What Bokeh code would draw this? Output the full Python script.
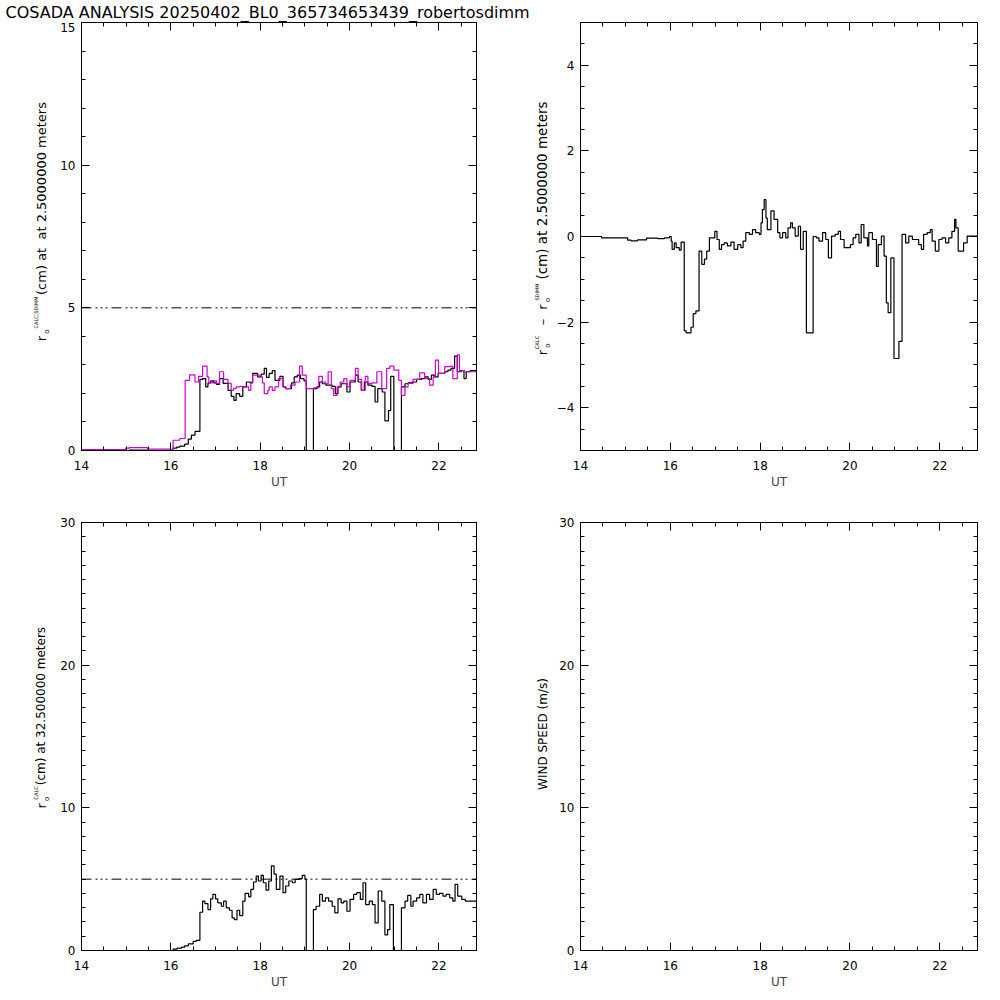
import numpy as np
from bokeh.plotting import figure
from bokeh.models import Range1d, FixedTicker, LinearAxis, Span
from bokeh.layouts import column, row
from bokeh.core.properties import value
from bokeh.embed import file_html
from bokeh.resources import INLINE

# ---------------- data (UT hours, r0 in cm) ----------------
title_text = "COSADA ANALYSIS 20250402_BL0_365734653439_robertosdimm"
x_major_ticks = [14, 16, 18, 20, 22]
y1_ticks = [0, 5, 10, 15]
y2_ticks = [-4, -2, 0, 2, 4]
y3_ticks = [0, 10, 20, 30]
r0_reference = 5.0

t_calc25 = [14.0, 15.07, 15.48, 15.98, 16.05, 16.13, 16.20, 16.31, 16.39, 16.46, 16.54, 16.65, 16.71,
            16.78, 16.83, 16.89, 16.96, 17.02, 17.09, 17.17, 17.28, 17.35, 17.41, 17.46, 17.54, 17.61,
            17.69, 17.77, 17.83, 17.94, 18.02, 18.09, 18.14, 18.20, 18.27, 18.33, 18.44, 18.51, 18.57,
            18.70, 18.76, 18.83, 18.90, 18.98, 19.03, 19.19, 19.27, 19.33, 19.39, 19.47, 19.61, 19.68,
            19.74, 19.81, 19.94, 20.01, 20.13, 20.19, 20.26, 20.33, 20.41, 20.50, 20.57, 20.63, 20.73,
            20.79, 20.87, 20.92, 20.99, 21.16, 21.24, 21.31, 21.40, 21.50, 21.61, 21.68, 21.76, 21.83,
            21.90, 21.98, 22.05, 22.13, 22.20, 22.27, 22.35, 22.41, 22.50, 22.56, 22.61, 22.70, 22.84]
r0_calc25 = [0.0, 0.01, 0.0, 0.03, 0.08, 0.12, 0.15, 0.22, 0.40, 0.54, 0.67, 2.49, 2.52,
             2.23, 2.37, 2.44, 2.37, 2.32, 2.52, 2.35, 2.11, 1.90, 1.76, 1.99, 1.90, 2.23,
             2.40, 2.37, 2.70, 2.58, 2.68, 2.88, 2.56, 2.70, 2.80, 2.46, 2.60, 2.23, 2.17,
             2.37, 2.58, 2.64, 2.52, 2.44, 0.0, 2.17, 2.23, 2.40, 2.34, 2.29, 2.25, 1.99,
             2.23, 2.34, 2.05, 2.40, 2.64, 2.40, 2.11, 2.40, 2.29, 2.25, 1.70, 2.17, 2.05,
             1.04, 1.40, 2.60, 0.0, 2.23, 2.34, 2.37, 2.40, 2.49, 2.52, 2.58, 2.49, 2.64,
             2.58, 2.70, 2.70, 2.76, 2.82, 2.88, 3.31, 2.76, 2.80, 2.52, 2.76, 2.80, 2.80]

t_sdimm = [14.0, 14.99, 15.07, 15.48, 15.98, 16.05, 16.20, 16.32, 16.42, 16.54, 16.62, 16.71, 16.81,
           16.85, 16.93, 17.02, 17.09, 17.18, 17.28, 17.35, 17.40, 17.46, 17.55, 17.62, 17.74, 17.79,
           17.83, 17.98, 18.05, 18.09, 18.17, 18.20, 18.27, 18.33, 18.41, 18.51, 18.57, 18.68, 18.78,
           18.88, 18.94, 19.03, 19.20, 19.31, 19.39, 19.46, 19.52, 19.59, 19.64, 19.72, 19.79, 19.87,
           19.94, 20.01, 20.13, 20.19, 20.27, 20.35, 20.41, 20.50, 20.61, 20.72, 20.83, 20.90, 20.99,
           21.10, 21.16, 21.24, 21.31, 21.42, 21.57, 21.68, 21.79, 21.87, 21.92, 21.99, 22.13, 22.26,
           22.31, 22.41, 22.46, 22.57, 22.84]
r0_sdimm = [0.03, 0.08, 0.10, 0.05, 0.03, 0.36, 0.42, 2.46, 2.65, 2.40, 2.60, 2.96, 2.58,
            2.37, 2.44, 2.35, 2.76, 2.49, 2.35, 2.11, 2.17, 2.23, 2.25, 2.23, 2.11, 2.40,
            2.64, 2.58, 2.37, 1.99, 2.11, 2.23, 2.11, 2.23, 2.52, 2.23, 2.17, 2.29, 2.40,
            2.96, 2.64, 2.17, 2.20, 2.60, 2.40, 2.34, 2.76, 2.17, 1.93, 2.23, 2.40, 2.52,
            2.23, 2.46, 2.88, 2.49, 2.11, 2.60, 2.35, 2.37, 2.76, 2.17, 2.88, 2.96, 2.82,
            2.46, 1.93, 2.23, 2.35, 2.49, 2.72, 2.52, 2.29, 2.58, 3.17, 2.70, 2.94, 2.96,
            2.52, 3.35, 2.80, 2.76, 2.76]

t_diff = [14.0, 14.47, 15.05, 15.13, 15.27, 15.47, 15.72, 15.87, 15.98, 16.02, 16.04, 16.09, 16.13,
          16.20, 16.24, 16.31, 16.35, 16.46, 16.51, 16.57, 16.64, 16.70, 16.76, 16.81, 16.87, 16.99,
          17.04, 17.09, 17.14, 17.20, 17.27, 17.35, 17.42, 17.50, 17.57, 17.62, 17.68, 17.76, 17.83,
          17.90, 17.98, 18.02, 18.05, 18.09, 18.13, 18.16, 18.24, 18.31, 18.39, 18.44, 18.50, 18.57,
          18.62, 18.68, 18.72, 18.78, 18.85, 18.90, 18.96, 19.03, 19.18, 19.25, 19.31, 19.39, 19.46,
          19.52, 19.59, 19.67, 19.74, 19.79, 19.87, 20.01, 20.07, 20.13, 20.20, 20.25, 20.31, 20.39,
          20.42, 20.50, 20.59, 20.63, 20.70, 20.76, 20.81, 20.85, 20.91, 20.98, 21.09, 21.16, 21.24,
          21.31, 21.39, 21.53, 21.59, 21.64, 21.72, 21.79, 21.83, 21.90, 21.98, 22.05, 22.13, 22.20,
          22.27, 22.33, 22.36, 22.41, 22.53, 22.61, 22.84]
r0_diff = [0.0, -0.03, -0.085, -0.10, -0.08, -0.04, -0.05, -0.03, 0.0, -0.11, -0.30, -0.15, -0.26,
           -0.32, -0.13, -2.20, -2.25, -2.12, -1.80, -1.74, -0.34, -0.65, -0.53, -0.34, -0.03, 0.12,
           -0.07, -0.30, -0.19, -0.15, -0.22, -0.13, -0.30, -0.19, -0.26, -0.11, 0.09, 0.05, 0.16,
           0.09, 0.05, 0.32, 0.63, 0.86, 0.43, 0.16, 0.60, 0.40, 0.09, -0.03, 0.09, -0.03,
           0.20, 0.32, 0.20, 0.01, 0.24, -0.30, 0.12, -2.25, 0.00, -0.03, -0.11, 0.09, -0.07,
           -0.50, 0.01, 0.05, 0.12, -0.07, -0.26, -0.19, -0.03, 0.05, -0.15, 0.28, -0.03, -0.22,
           0.09, -0.07, -0.70, -0.19, 0.01, -0.46, -1.55, -1.78, -0.50, -2.85, -2.45, 0.05, -0.15,
           0.01, -0.07, -0.19, -0.30, 0.05, 0.09, 0.16, -0.11, -0.34, -0.07, -0.03, -0.15, -0.03,
           0.12, 0.40, 0.20, -0.34, -0.15, 0.01, 0.01]

t_calc325 = [14.0, 16.05, 16.14, 16.24, 16.31, 16.39, 16.50, 16.57, 16.65, 16.71, 16.76, 16.83, 16.89,
             16.94, 17.00, 17.05, 17.13, 17.18, 17.24, 17.31, 17.37, 17.42, 17.48, 17.54, 17.61, 17.66,
             17.74, 17.79, 17.85, 17.91, 17.96, 18.02, 18.07, 18.13, 18.19, 18.25, 18.31, 18.36, 18.44,
             18.51, 18.57, 18.64, 18.72, 18.78, 18.87, 18.94, 19.00, 19.03, 19.19, 19.25, 19.33, 19.39,
             19.46, 19.53, 19.61, 19.67, 19.74, 19.81, 19.87, 19.94, 20.01, 20.09, 20.16, 20.24, 20.30,
             20.36, 20.44, 20.51, 20.57, 20.64, 20.72, 20.79, 20.85, 20.90, 20.98, 21.16, 21.24, 21.30,
             21.37, 21.42, 21.50, 21.57, 21.64, 21.72, 21.79, 21.87, 21.94, 22.01, 22.09, 22.16, 22.24,
             22.31, 22.36, 22.42, 22.51, 22.59, 22.84]
r0_calc325 = [0.0, 0.10, 0.17, 0.24, 0.33, 0.47, 0.64, 0.71, 2.68, 3.46, 3.29, 2.87, 3.62,
              3.93, 3.62, 3.34, 3.10, 3.46, 2.99, 2.82, 2.28, 2.16, 2.82, 2.45, 3.46, 4.00,
              3.76, 4.28, 4.80, 5.22, 4.87, 5.27, 4.75, 4.23, 4.87, 5.93, 5.36, 4.28, 5.22,
              4.05, 4.52, 4.87, 4.75, 4.99, 5.04, 5.27, 4.99, 0.0, 2.87, 3.10, 3.93, 3.46,
              3.69, 3.46, 3.10, 2.64, 3.62, 3.34, 3.46, 2.75, 3.58, 3.93, 4.05, 3.58, 4.75,
              3.22, 3.46, 3.22, 1.93, 4.17, 3.46, 1.10, 1.46, 3.22, 0.0, 2.99, 3.46, 3.86,
              3.10, 3.46, 3.69, 3.93, 3.34, 3.93, 3.58, 4.28, 3.93, 4.00, 3.81, 3.93, 3.69,
              3.46, 4.64, 3.81, 3.58, 3.46, 3.46]

# ---------------- styling ----------------
FONT = "DejaVu Sans"
MAGENTA = "#cc00cc"
X_START, X_END = t_calc25[0], t_calc25[-1]
DASH = "10 4 2 3 2 3 2 4"
NB = "\u00a0"


def make_fig(ylo, yhi, ymajor, yminor_step, left, fw, right, top, bottom):
    p = figure(frame_width=fw, frame_height=428,
               x_range=Range1d(X_START, X_END), y_range=Range1d(ylo, yhi),
               output_backend="svg", toolbar_location=None,
               min_border_left=left, min_border_right=right,
               min_border_top=top, min_border_bottom=bottom,
               background_fill_color="white", border_fill_color="white",
               outline_line_color="black", outline_line_width=1)
    p.xgrid.visible = False
    p.ygrid.visible = False
    xt = FixedTicker(ticks=x_major_ticks, minor_ticks=list(np.arange(14.0, X_END, 0.5)))
    yt = FixedTicker(ticks=ymajor, minor_ticks=list(np.arange(ylo, yhi + 1e-9, yminor_step)))
    p.xaxis.ticker = xt
    p.yaxis.ticker = yt
    for ax in (p.xaxis[0], p.yaxis[0]):
        ax.major_tick_in = 8
        ax.major_tick_out = 0
        ax.minor_tick_in = 4
        ax.minor_tick_out = 0
        ax.axis_line_color = "black"
        ax.major_tick_line_color = "black"
        ax.minor_tick_line_color = "black"
        ax.major_label_text_font = FONT
        ax.major_label_text_font_size = "12px"
        ax.major_label_text_color = "black"
    p.xaxis.major_label_standoff = 10
    p.yaxis.major_label_standoff = 6
    p.xaxis.axis_label = "UT"
    p.xaxis.axis_label_text_font = FONT
    p.xaxis.axis_label_text_font_size = "12px"
    p.xaxis.axis_label_text_font_style = "normal"
    p.xaxis.axis_label_standoff = 2
    for loc, tk in (("above", xt), ("right", yt)):
        ax = LinearAxis(ticker=tk, major_tick_in=8, major_tick_out=0, minor_tick_in=4,
                        minor_tick_out=0, major_label_text_font_size="0px",
                        major_label_text_color=None, major_label_text_alpha=0,
                        major_label_standoff=0, axis_line_color="black")
        p.add_layout(ax, loc)
    return p


def text_fig(x0, x1, top, bottom, ftop, fbottom):
    """A bare canvas whose data coordinates are page pixels (y negated); its frame
    spans page rows ftop..fbottom so that it lines up with the neighbouring plot frame."""
    f = figure(width=x1 - x0, height=bottom - top,
               x_range=Range1d(x0, x1), y_range=Range1d(-fbottom, -ftop),
               x_axis_location=None, y_axis_location=None,
               min_border_left=0, min_border_right=0,
               min_border_top=ftop - top, min_border_bottom=bottom - fbottom,
               outline_line_color=None, toolbar_location=None, output_backend="svg",
               background_fill_color="white", border_fill_color="white")
    f.xgrid.visible = False
    f.ygrid.visible = False
    return f


def vput(f, text, cx, cy, size):
    """Vertical (bottom-to-top) text centred on (cx, cy) in page pixels."""
    f.text(x=[cx], y=[-cy], text=[text], angle=np.pi / 2, text_font=value(FONT),
           text_font_size=value(size), text_color="black", text_align="center",
           text_baseline="middle")


# title row
T = text_fig(0, 990, 0, 22, 0, 22)
T.text(x=[5], y=[-12], text=[title_text], text_font=value(FONT), text_font_size=value("16px"),
       text_color="black", text_align="left", text_baseline="middle")

# panel 1
p1 = make_fig(0, 15, y1_ticks, 1, 31, 395, 22, 0, 50)
p1.add_layout(Span(location=r0_reference, dimension="width", line_color="black",
                   line_width=1, line_dash=DASH))
p1.step(t_calc25, r0_calc25, mode="after", line_color="black", line_width=1.2)
p1.step(t_sdimm, r0_sdimm, mode="after", line_color=MAGENTA, line_width=1.2)
L1 = text_fig(0, 50, 22, 500, 22, 450)
vput(L1, "r", 40.5, 338, "13px")
vput(L1, "o", 46.5, 331, "7px")
vput(L1, "CALC,SDIMM", 35, 312, "5px")
vput(L1, "(cm) at" + NB + NB + "at 2.5000000 meters", 40.5, 198, "13px")

# panel 2
p2 = make_fig(-5, 5, y2_ticks, 0.5, 30, 397, 13, 0, 50)
p2.step(t_diff, r0_diff, mode="after", line_color="black", line_width=1.2)
L2 = text_fig(498, 550, 22, 500, 22, 450)
vput(L2, "r", 541.5, 352, "13px")
vput(L2, "o", 547, 345, "7px")
vput(L2, "CALC", 536, 342, "5.2px")
vput(L2, "\u2013", 541.5, 321.5, "13px")
vput(L2, "r", 541.5, 306.5, "13px")
vput(L2, "o", 547, 299.5, "7px")
vput(L2, "SDIMM", 536, 291.5, "5px")
vput(L2, "(cm) at 2.5000000 meters", 541.5, 190, "13.5px")

# panel 3
p3 = make_fig(0, 30, y3_ticks, 1, 31, 395, 22, 22, 40)
p3.add_layout(Span(location=r0_reference, dimension="width", line_color="black",
                   line_width=1, line_dash=DASH))
p3.step(t_calc325, r0_calc325, mode="after", line_color="black", line_width=1.2)
L3 = text_fig(0, 50, 500, 990, 522, 950)
vput(L3, "r", 40.5, 806, "13px")
vput(L3, "o", 46.5, 799, "7px")
vput(L3, "CALC", 35, 793, "5.2px")
vput(L3, "(cm) at 32.500000 meters", 40.5, 706, "12px")

# panel 4
p4 = make_fig(0, 30, y3_ticks, 1, 30, 397, 13, 22, 40)
L4 = text_fig(498, 550, 500, 990, 522, 950)
vput(L4, "WIND SPEED (m/s)", 542.5, 734, "12px")

layout = column(T, row(L1, p1, L2, p2), row(L3, p3, L4, p4))
open("out.html", "w").write(file_html(layout, INLINE))
